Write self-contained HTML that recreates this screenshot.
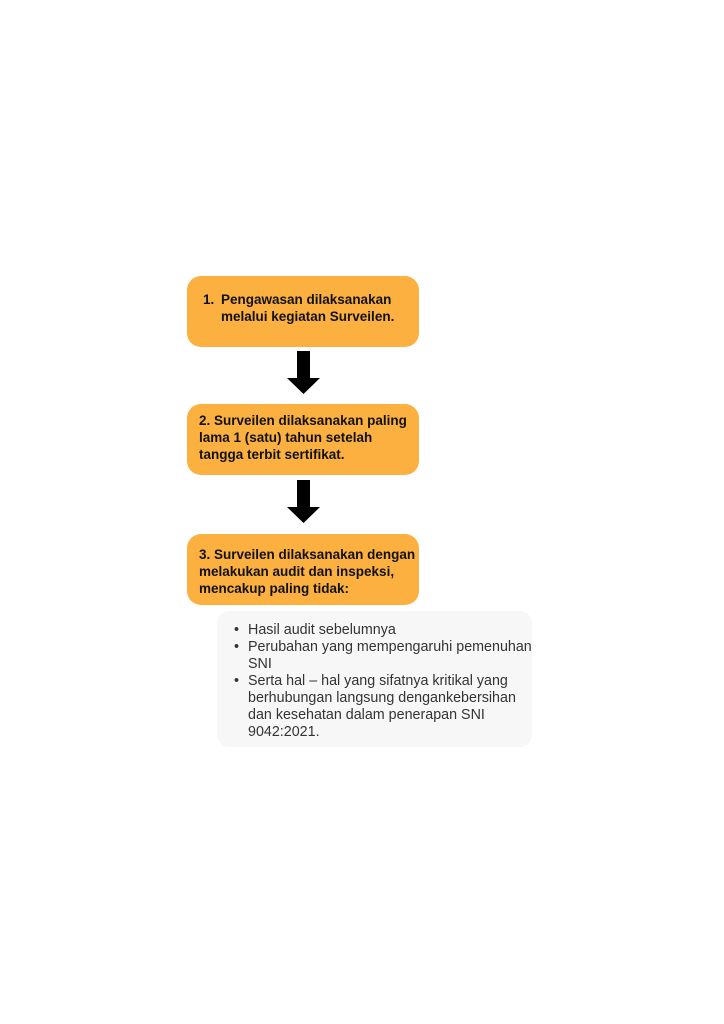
<!DOCTYPE html>
<html><head><meta charset="utf-8"><style>
html,body{margin:0;padding:0;background:#fff;}
body{width:724px;height:1024px;position:relative;overflow:hidden;font-family:"Liberation Sans",sans-serif;}
.box{position:absolute;left:187px;width:232px;height:71px;background:#fbb040;border-radius:14px;}
.t{position:absolute;font-weight:bold;font-size:13.5px;line-height:17px;color:#111;white-space:nowrap;}
.grey{position:absolute;left:217px;top:611px;width:315px;height:136px;background:#f7f7f7;border-radius:12px;}
.li{position:absolute;font-size:14.3px;line-height:17px;color:#333;white-space:nowrap;}
</style></head><body>
<div class="box" style="top:276px"></div>
<div class="t" style="left:203px;top:291px">1.</div>
<div class="t" style="left:221px;top:291px">Pengawasan dilaksanakan<br>melalui kegiatan Surveilen.</div>
<svg style="position:absolute;left:0;top:0" width="724" height="1024">
<rect x="297" y="351" width="13" height="28" fill="#000"/>
<polygon points="287,378 320,378 303.5,394" fill="#000"/>
<rect x="297" y="480" width="13" height="28" fill="#000"/>
<polygon points="287,507 320,507 303.5,523" fill="#000"/>
</svg>
<div class="box" style="top:404px"></div>
<div class="t" style="left:199px;top:412px">2. Surveilen dilaksanakan paling<br>lama 1 (satu) tahun setelah<br>tangga terbit sertifikat.</div>
<div class="box" style="top:534px"></div>
<div class="t" style="left:199px;top:546px">3. Surveilen dilaksanakan dengan<br>melakukan audit dan inspeksi,<br>mencakup paling tidak:</div>
<div class="grey"></div>
<div class="li" style="left:234px;top:622px">•</div>
<div class="li" style="left:248px;top:622px">Hasil audit sebelumnya</div>
<div class="li" style="left:234px;top:639px">•</div>
<div class="li" style="left:248px;top:639px">Perubahan yang mempengaruhi pemenuhan<br>SNI</div>
<div class="li" style="left:234px;top:673px">•</div>
<div class="li" style="left:248px;top:673px">Serta hal – hal yang sifatnya kritikal yang<br>berhubungan langsung dengankebersihan<br>dan kesehatan dalam penerapan SNI<br>9042:2021.</div>
</body></html>
